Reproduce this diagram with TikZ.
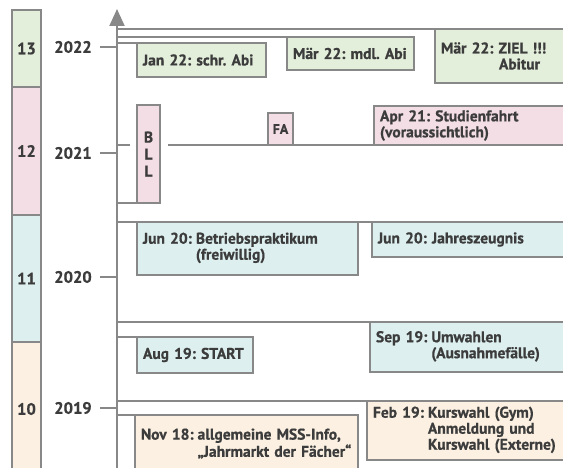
\documentclass[tikz,border=0pt]{standalone}
\usepackage{fontspec}
\setmainfont{PT Sans}[BoldFeatures={FakeBold=0.7}]
\usetikzlibrary{arrows.meta}
\definecolor{cgreen}{HTML}{E3EEDB}
\definecolor{cpink}{HTML}{F2DEE4}
\definecolor{cblue}{HTML}{DDEFEF}
\definecolor{cbeige}{HTML}{FBF0E2}
\definecolor{cline}{HTML}{888888}
\definecolor{ctext}{HTML}{3C3C3C}
\frenchspacing
\begin{document}
\begin{tikzpicture}[x=1pt,y=-1pt,
  ln/.style={draw=cline,line width=2pt},
  evbox/.style n args={3}{draw=cline,line width=2pt,anchor=north west,outer sep=0pt,
    inner xsep=6pt,inner ysep=0pt,align=left,text=ctext,
    minimum width=#1,minimum height=#2,text width=#3,
    font=\frenchspacing\bfseries\fontsize{15.5}{16}\selectfont},
  grade/.style={draw=cline,line width=2pt,anchor=north west,outer sep=0pt,minimum width=29,
    inner sep=0pt,text=ctext,font=\bfseries\fontsize{16.5}{18}\selectfont},
  year/.style={text=ctext,font=\bfseries\fontsize{16.5}{18}\selectfont,inner sep=0pt}
]
\clip (0,0) rectangle (563,468);
\fill[white] (0,0) rectangle (563,468);

% grade column
\node[grade,fill=cgreen,minimum height=77] (g13) at (12,10) {13};
\node[grade,fill=cpink,minimum height=128] (g12) at (12,87) {12};
\node[grade,fill=cblue,minimum height=127] (g11) at (12,215) {11};
\node[grade,fill=cbeige,minimum height=134] (g10) at (12,342) {10};

% years
\node[year] (y22) at (73,47) {2022};
\node[year] (y21) at (73,153) {2021};
\node[year] (y20) at (73,277) {2020};
\node[year] (y19) at (73,408) {2019};
\coordinate (t22) at (100,47);
\coordinate (t21) at (100,153);
\coordinate (t20) at (100,277);
\coordinate (t19) at (100,408);
\draw[ln] (t22) -- ++(17,0);
\draw[ln] (t21) -- ++(17,0);
\draw[ln] (t20) -- ++(17,0);
\draw[ln] (t19) -- ++(17,0);

% axis
\coordinate (axb) at (117,472);
\coordinate (axt) at (117,9);
\draw[ln,-{Triangle[length=17pt,width=15pt]}] (axb) -- (axt);

% boxes
\node[evbox={129}{34}{117},fill=cgreen] (jan) at (137,43) {Jan 22: schr. Abi};
\node[evbox={127}{33}{115},fill=cgreen] (mdl) at (287,37) {Mär 22: mdl. Abi};
\node[evbox={140}{54}{128},fill=cgreen] (ziel) at (435,29)
  {Mär 22: ZIEL !!!\\\hspace*{58pt}Abitur};
\node[evbox={23}{98}{23},fill=cpink,inner xsep=0pt,align=center,
  font=\bfseries\fontsize{15.5}{17}\selectfont] (bll) at (137,105) {B\\L\\L};
\node[evbox={25}{32}{25},fill=cpink,inner xsep=0pt,align=center,
  font=\bfseries\fontsize{14}{15}\selectfont] (fa) at (268,113) {FA};
\node[evbox={191}{39}{179},fill=cpink] (apr) at (374,106)
  {Apr 21: Studienfahrt\\(voraussichtlich)};
\node[evbox={221}{53}{209},fill=cblue] (jun) at (137,222)
  {\begin{tabular}{@{}l@{\hspace{4pt}}l@{}}Jun 20:&Betriebspraktikum\\&(freiwillig)\end{tabular}};
\node[evbox={193}{35}{181},fill=cblue] (jah) at (372,222) {Jun 20: Jahreszeugnis};
\node[evbox={116}{36}{104},fill=cblue] (aug) at (137,337) {Aug 19: START};
\node[evbox={195}{50}{183},fill=cblue] (sep) at (370,322)
  {\begin{tabular}{@{}l@{\hspace{4pt}}l@{}}Sep 19:&Umwahlen\\&(Ausnahmefälle)\end{tabular}};
\node[evbox={223}{60}{211},fill=cbeige] (nov) at (135,415)
  {\begin{tabular}{@{}l@{\hspace{4pt}}l@{}}Nov 18:&allgemeine MSS-Info,\\&„Jahrmarkt der Fächer“\end{tabular}};
\node[evbox={198}{59}{186},fill=cbeige] (feb) at (367,401)
  {\begin{tabular}{@{}l@{\hspace{4pt}}l@{}}Feb 19:&Kurswahl (Gym)\\&Anmeldung und\\&Kurswahl (Externe)\end{tabular}};

% row connectors
\coordinate (r29) at (117,29);
\coordinate (r37) at (117,37);
\coordinate (r43) at (117,43);
\coordinate (r145) at (117,145);
\coordinate (g1) at (130,145);
\coordinate (g2) at (168,145);
\coordinate (r203) at (117,203);
\coordinate (r222) at (117,222);
\coordinate (r322) at (117,322);
\coordinate (r337) at (117,337);
\coordinate (r401) at (117,401);
\coordinate (r415) at (117,415);
\draw[ln] (r29) -- (ziel.north west);
\draw[ln] (r37) -- (mdl.north west);
\draw[ln] (r43) -- (jan.north west);
\draw[ln] (r145) -- (g1);
\draw[ln] (g2) -- (fa.south west);
\draw[ln] (fa.south east) -- (apr.south west);
\draw[ln] (r203) -- (bll.south west);
\draw[ln] (r222) -- (jun.north west);
\draw[ln] (jun.north east) -- (jah.north west);
\draw[ln] (r322) -- (sep.north west);
\draw[ln] (r337) -- (aug.north west);
\draw[ln] (r401) -- (feb.north west);
\draw[ln] (r415) -- (nov.north west);
\end{tikzpicture}
\end{document}
